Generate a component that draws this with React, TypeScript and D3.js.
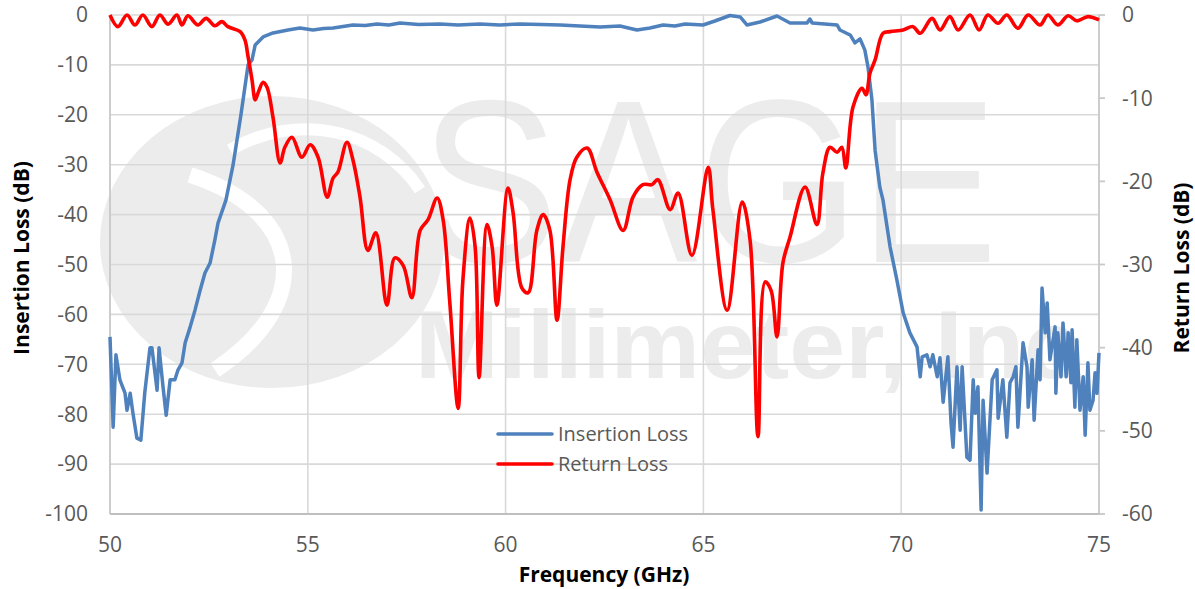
import React, { useRef, useEffect } from 'react';
import * as d3 from 'd3';

// axis ticks
const xTicks = [50, 55, 60, 65, 70, 75];
const leftTicks = [0, -10, -20, -30, -40, -50, -60, -70, -80, -90, -100];
const rightTicks = [0, -10, -20, -30, -40, -50, -60];

// [GHz, dB]
const insertionLoss: [number, number][] = [
  [50.00, -64.5], [50.08, -82.6], [50.15, -68.1], [50.25, -73.1], [50.38, -75.8], [50.43, -79.2],
  [50.51, -75.8], [50.58, -79.8], [50.68, -84.8], [50.78, -85.2], [50.88, -75.6], [51.01, -66.7],
  [51.06, -66.7], [51.19, -75.2], [51.24, -66.7], [51.34, -74.5], [51.42, -80.2], [51.52, -73.1],
  [51.64, -73.1], [51.72, -71.1], [51.82, -69.7], [51.90, -65.7], [52.02, -62.7], [52.15, -59.1],
  [52.28, -55.1], [52.40, -51.7], [52.53, -49.7], [52.65, -45.1], [52.73, -41.7], [52.93, -37.1],
  [53.11, -30.1], [53.31, -20.0], [53.49, -10.0], [53.59, -9.0], [53.67, -6.0], [53.72, -5.6],
  [53.87, -4.4], [54.12, -3.6], [54.50, -3.0], [54.80, -2.6], [55.13, -3.0], [55.40, -2.7],
  [55.64, -2.6], [56.14, -2.0], [56.45, -2.1], [56.75, -1.8], [57.05, -2.0], [57.33, -1.6],
  [57.80, -1.9], [58.34, -1.8], [58.80, -2.0], [59.35, -1.8], [59.85, -2.0], [60.36, -1.8],
  [60.90, -1.9], [61.38, -2.0],
  [61.88, -2.2], [62.39, -2.4], [62.89, -2.2], [63.32, -3.0], [63.65, -2.6], [63.98, -2.0],
  [64.28, -2.2], [64.54, -1.8], [64.99, -2.0], [65.29, -1.2], [65.67, -0.1], [65.93, -0.4],
  [66.10, -2.0], [66.43, -1.4], [66.86, -0.2], [67.19, -1.6], [67.62, -1.6], [67.69, -0.8],
  [67.75, -1.6], [68.38, -2.0], [68.45, -3.0], [68.71, -4.0], [68.83, -5.6], [68.96, -4.8],
  [69.08, -7.0], [69.16, -10.4], [69.26, -17.0], [69.34, -27.1], [69.46, -34.5], [69.54, -37.1],
  [69.72, -46.5], [69.89, -53.1], [70.05, -59.7], [70.22, -63.7], [70.40, -66.5], [70.48, -72.5],
  [70.53, -68.5], [70.65, -68.1], [70.73, -70.5], [70.80, -68.1], [70.91, -72.5], [70.98, -68.7],
  [71.06, -77.6], [71.18, -68.5], [71.26, -81.8], [71.31, -86.6], [71.41, -70.5], [71.49, -83.2],
  [71.54, -70.5], [71.66, -88.6], [71.74, -89.2], [71.82, -73.1], [71.87, -79.8], [71.94, -74.5],
  [72.02, -99.2], [72.07, -77.2], [72.17, -91.8], [72.30, -73.1], [72.42, -71.1], [72.45, -80.8],
  [72.57, -73.1], [72.67, -84.6], [72.75, -73.7], [72.83, -72.5], [72.90, -70.5], [72.95, -82.6],
  [73.08, -65.7], [73.18, -70.5], [73.21, -78.6], [73.31, -69.1], [73.36, -81.2], [73.46, -67.1],
  [73.51, -73.1], [73.56, -54.7], [73.64, -63.7], [73.69, -57.7], [73.76, -69.1], [73.89, -62.5],
  [73.91, -75.8], [73.96, -63.7], [74.04, -72.5], [74.09, -61.7], [74.17, -72.5], [74.22, -63.7],
  [74.29, -73.7], [74.32, -63.1], [74.39, -78.6], [74.44, -65.1], [74.52, -79.2], [74.60, -72.5],
  [74.65, -84.2], [74.72, -69.7], [74.77, -79.2], [74.85, -77.2], [74.90, -71.7], [74.95, -75.8],
  [75.00, -67.7],
];

const returnLoss: [number, number][] = [
  [50.00, 0], [50.20, -1.4], [50.43, 0], [50.63, -1.2], [50.83, 0], [51.06, -1.4], [51.26, 0],
  [51.47, -1.1], [51.69, 0], [51.82, -1.2], [51.97, -0.1], [52.22, -1.2], [52.43, -0.4],
  [52.65, -1.3], [52.83, -0.8], [52.98, -1.4], [53.29, -2.0], [53.41, -3.0], [53.49, -5.0],
  [53.59, -7.8], [53.67, -10.2], [53.74, -9.4], [53.87, -8.1], [53.97, -8.7], [54.12, -12.3],
  [54.30, -17.8], [54.42, -15.9], [54.60, -14.7], [54.85, -17.1], [55.06, -15.6], [55.26, -17.1],
  [55.49, -21.9], [55.64, -19.6], [55.76, -18.9], [55.99, -15.3], [56.14, -17.4], [56.32, -21.9],
  [56.52, -28.3], [56.72, -26.2], [57.00, -34.9], [57.20, -29.2], [57.41, -30.1], [57.63, -34.0],
  [57.84, -25.9], [58.04, -24.6], [58.27, -22.0], [58.42, -24.6], [58.59, -34.6], [58.80, -47.3],
  [58.92, -31.9], [59.10, -24.4], [59.23, -27.9], [59.33, -43.6], [59.53, -25.2], [59.66, -27.9],
  [59.78, -34.9], [60.06, -20.8], [60.19, -23.8], [60.41, -32.8], [60.57, -33.4], [60.79, -25.9],
  [60.95, -24.0], [61.12, -25.9], [61.30, -36.7], [61.45, -27.9], [61.63, -19.8], [61.80, -17.1],
  [62.06, -16.0], [62.31, -18.9], [62.64, -22.2], [62.97, -25.9], [63.22, -21.9], [63.47, -20.4],
  [63.70, -20.4], [63.85, -19.8], [64.16, -23.4], [64.36, -21.4], [64.71, -28.9], [65.12, -18.3],
  [65.24, -23.4], [65.60, -35.5], [65.98, -22.5], [66.18, -27.1], [66.38, -50.7], [66.56, -32.1],
  [66.71, -33.1], [66.86, -38.7], [67.01, -29.8], [67.19, -26.7], [67.57, -20.7], [67.87, -25.2],
  [68.02, -19.0], [68.20, -15.9], [68.38, -16.5], [68.50, -15.9], [68.60, -18.4], [68.78, -11.1],
  [69.01, -8.8], [69.11, -9.6], [69.21, -7.0], [69.34, -5.4], [69.54, -2.2], [69.72, -2.0],
  [70.05, -1.8], [70.30, -1.4], [70.48, -2.2], [70.78, -0.4], [70.98, -1.8], [71.23, -0.2],
  [71.44, -1.8], [71.74, 0], [71.97, -1.8], [72.19, 0], [72.45, -1.0], [72.67, 0], [72.95, -1.6],
  [73.21, 0], [73.51, -1.2], [73.71, 0], [73.96, -1.2], [74.22, -0.1], [74.44, -0.7],
  [74.72, -0.2], [75.00, -0.6],
];

const W = 1195;
const H = 589;
const FONT = '"Open Sans", "Liberation Sans", sans-serif';
const TEXT = '#595959';

const App: React.FC = () => {
  const ref = useRef<SVGSVGElement | null>(null);

  useEffect(() => {
    const margin = { top: 15, right: 96, bottom: 75, left: 110 };
    const w = W - margin.left - margin.right;
    const h = H - margin.top - margin.bottom;

    const svg = d3.select(ref.current);
    svg.selectAll('*').remove();

    // watermark (logo + company name), sits behind the grid
    const wm = svg.append('g').attr('fill', '#ececec');
    wm.append('ellipse').attr('cx', 272).attr('cy', 242).attr('rx', 172).attr('ry', 146);
    wm.append('path')
      .attr('d', 'M 190 175 C 300 210, 320 300, 215 370')
      .attr('fill', 'none').attr('stroke', '#fff').attr('stroke-width', 16);
    wm.append('path')
      .attr('d', 'M 230 150 C 300 110, 380 130, 420 190')
      .attr('fill', 'none').attr('stroke', '#fff').attr('stroke-width', 12);
    wm.append('text')
      .attr('x', 420).attr('y', 262)
      .attr('font-family', '"Liberation Sans", Arial, sans-serif')
      .attr('font-size', 232)
      .attr('textLength', 578).attr('lengthAdjust', 'spacingAndGlyphs')
      .text('SAGE');
    wm.append('text')
      .attr('x', 415).attr('y', 378)
      .attr('font-family', '"Liberation Sans", Arial, sans-serif')
      .attr('font-weight', 'bold')
      .attr('font-size', 96)
      .attr('textLength', 665).attr('lengthAdjust', 'spacingAndGlyphs')
      .text('Millimeter, Inc');

    const x = d3.scaleLinear().domain([50, 75]).range([0, w]);
    const yL = d3.scaleLinear().domain([-100, 0]).range([h, 0]);
    const yR = d3.scaleLinear().domain([-60, 0]).range([h, 0]);

    const g = svg.append('g').attr('transform', `translate(${margin.left},${margin.top})`);

    // grid
    g.append('g').selectAll('line').data(leftTicks.filter(t => t !== -100)).join('line')
      .attr('x1', 0).attr('x2', w)
      .attr('y1', d => yL(d)).attr('y2', d => yL(d))
      .attr('stroke', '#d9d9d9').attr('stroke-width', 1.6);
    g.append('g').selectAll('line').data(xTicks.slice(1, -1)).join('line')
      .attr('x1', d => x(d)).attr('x2', d => x(d))
      .attr('y1', 0).attr('y2', h)
      .attr('stroke', '#d9d9d9').attr('stroke-width', 1.6);

    // axis lines
    g.append('line').attr('x1', 0).attr('x2', 0).attr('y1', 0).attr('y2', h)
      .attr('stroke', '#c8c8c8').attr('stroke-width', 1.8);
    g.append('line').attr('x1', w).attr('x2', w).attr('y1', 0).attr('y2', h)
      .attr('stroke', '#c8c8c8').attr('stroke-width', 1.8);
    g.append('line').attr('x1', 0).attr('x2', w).attr('y1', h).attr('y2', h)
      .attr('stroke', '#bfbfbf').attr('stroke-width', 2);
    g.append('g').selectAll('line').data(rightTicks).join('line')
      .attr('x1', w).attr('x2', w + 6)
      .attr('y1', d => yR(d)).attr('y2', d => yR(d))
      .attr('stroke', '#c8c8c8').attr('stroke-width', 1.8);

    // tick labels
    g.append('g').selectAll('text').data(leftTicks).join('text')
      .attr('x', -22).attr('y', d => yL(d)).attr('dy', '0.35em')
      .attr('text-anchor', 'end')
      .attr('font-family', FONT).attr('font-size', 21).attr('fill', TEXT)
      .text(d => d);
    g.append('g').selectAll('text').data(rightTicks).join('text')
      .attr('x', w + 23).attr('y', d => yR(d)).attr('dy', '0.35em')
      .attr('text-anchor', 'start')
      .attr('font-family', FONT).attr('font-size', 21).attr('fill', TEXT)
      .text(d => d);
    g.append('g').selectAll('text').data(xTicks).join('text')
      .attr('x', d => x(d)).attr('y', h + 31).attr('dy', '0.35em')
      .attr('text-anchor', 'middle')
      .attr('font-family', FONT).attr('font-size', 21).attr('fill', TEXT)
      .text(d => d);

    // axis titles
    const title = (sel: d3.Selection<SVGTextElement, unknown, null, undefined>) =>
      sel.attr('font-family', FONT).attr('font-size', 21).attr('font-weight', 'bold')
        .attr('fill', '#000').attr('text-anchor', 'middle').attr('dy', '0.35em');
    svg.append('text').attr('x', 604).attr('y', 575).call(title).text('Frequency (GHz)');
    svg.append('text').attr('transform', 'translate(22,258) rotate(-90)').call(title).text('Insertion Loss (dB)');
    svg.append('text').attr('transform', 'translate(1182,268) rotate(-90)').call(title).text('Return Loss (dB)');

    // series
    svg.append('defs').append('clipPath').attr('id', 'plot-clip')
      .append('rect').attr('x', -2).attr('y', -3).attr('width', w + 4).attr('height', h + 5);
    const series = g.append('g').attr('clip-path', 'url(#plot-clip)');

    const ilLine = d3.line<[number, number]>()
      .x(d => x(d[0])).y(d => yL(d[1]))
      .curve(d3.curveLinear);
    const rlLine = d3.line<[number, number]>()
      .x(d => x(d[0])).y(d => yR(d[1]))
      .curve(d3.curveCatmullRom.alpha(0.5));

    series.append('path').datum(insertionLoss)
      .attr('fill', 'none').attr('stroke', '#4f81bd').attr('stroke-width', 3.5)
      .attr('stroke-linejoin', 'round').attr('d', ilLine);
    series.append('path').datum(returnLoss)
      .attr('fill', 'none').attr('stroke', '#ff0000').attr('stroke-width', 3.6)
      .attr('stroke-linejoin', 'round').attr('d', rlLine);

    // legend
    const legend = svg.append('g').attr('transform', 'translate(498,434)');
    const items = [
      { name: 'Insertion Loss', color: '#4f81bd' },
      { name: 'Return Loss', color: '#ff0000' },
    ];
    items.forEach((it, i) => {
      const row = legend.append('g').attr('transform', `translate(0,${i * 30})`);
      row.append('line').attr('x1', 0).attr('x2', 54).attr('y1', 0).attr('y2', 0)
        .attr('stroke', it.color).attr('stroke-width', 3.6).attr('stroke-linecap', 'round');
      row.append('text').attr('x', 60).attr('y', 0).attr('dy', '0.35em')
        .attr('font-family', FONT).attr('font-size', 20).attr('fill', TEXT)
        .text(it.name);
    });
  }, []);

  return (
    <svg
      ref={ref}
      width={W}
      height={H}
      style={{ position: 'absolute', left: 0, top: 0, background: '#fff', display: 'block' }}
    />
  );
};

export default App;
